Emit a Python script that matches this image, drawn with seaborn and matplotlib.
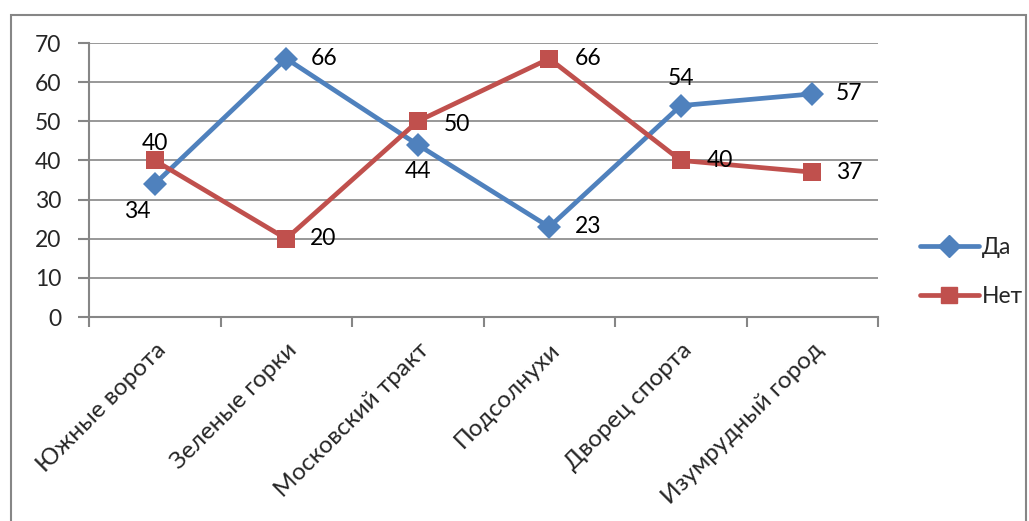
import pandas as pd
import seaborn as sns
import matplotlib.pyplot as plt
from matplotlib.patches import Rectangle

# Data
districts = ["Южные ворота", "Зеленые горки", "Московский тракт",
             "Подсолнухи", "Дворец спорта", "Изумрудный город"]
yes_values = [34, 66, 44, 23, 54, 57]
no_values = [40, 20, 50, 66, 40, 37]

# where each value label sits relative to its marker (pixels): (dx, dy, ha)
yes_offsets = [(-17, -28, "center"), (24, 0, "left"), (0, -27, "center"),
               (26, 0, "left"), (0, 27, "center"), (24, 0, "left")]
no_offsets = [(0, 17, "center"), (24, 0, "left"), (26, -3, "left"),
              (26, 0, "left"), (26, 0, "left"), (24, 0, "left")]

df = pd.DataFrame({
    "idx": list(range(len(districts))) * 2,
    "value": yes_values + no_values,
    "series": ["Да"] * len(districts) + ["Нет"] * len(districts),
})

sns.set_style("white")
plt.rcParams["font.family"] = ["Lato", "DejaVu Sans"]

blue = "#4F81BD"
red = "#C0504D"
grid = "#868686"
fs = 16.5

fig = plt.figure(figsize=(10.29, 5.21), dpi=100)
ax = fig.add_axes([89 / 1029, 1 - 317 / 521, (878 - 89) / 1029, (317 - 43) / 521])

sns.lineplot(data=df, x="idx", y="value", hue="series", style="series",
             markers={"Да": "D", "Нет": "s"}, dashes=False,
             palette={"Да": blue, "Нет": red}, linewidth=3.4,
             markeredgewidth=0, ax=ax, legend=False)

for line in ax.get_lines():
    if line.get_marker() == "s":
        line.set_markersize(13)
    if line.get_marker() == "D":
        line.set_markersize(12)

ax.set_xlim(-0.5, len(districts) - 0.5)
ax.set_ylim(0, 70)
ax.set_yticks(range(0, 71, 10))
ax.set_xticks([i + 0.5 for i in range(-1, len(districts))], minor=False)
ax.set_xticklabels([])
ax.set_xticks(range(len(districts)), minor=True)
ax.set_xticklabels(districts, minor=True, rotation=45, ha="right",
                   rotation_mode="anchor", fontsize=fs + 1)
ax.tick_params(axis="x", which="minor", length=0, pad=16)
ax.tick_params(axis="x", which="major", length=7, width=1.5, color=grid, direction="out")
ax.tick_params(axis="y", length=8, width=1.5, color=grid, direction="out",
               labelsize=fs, pad=12)
ax.tick_params(left=True, bottom=True)
ax.set_xlabel("")
ax.set_ylabel("")
ax.grid(axis="y", color=grid, linewidth=1.2)
ax.set_axisbelow(True)
for side in ["top", "right"]:
    ax.spines[side].set_visible(False)
for side in ["left", "bottom"]:
    ax.spines[side].set_color(grid)
    ax.spines[side].set_linewidth(1.5)

# value labels
px = 0.72
for vals, offs in [(yes_values, yes_offsets), (no_values, no_offsets)]:
    for i, (v, (dx, dy, ha)) in enumerate(zip(vals, offs)):
        ax.annotate(str(v), (i, v), xytext=(dx * px, dy * px),
                    textcoords="offset points", ha=ha, va="center",
                    fontsize=fs, color="black")

# legend
handles = [
    plt.Line2D([], [], color=blue, lw=3.4, marker="D", markersize=11),
    plt.Line2D([], [], color=red, lw=3.4, marker="s", markersize=12),
]
fig.legend(handles, ["Да", "Нет"], loc="center left",
           bbox_to_anchor=(0.878, 1 - 272 / 521), frameon=False,
           fontsize=fs, labelspacing=1.2, handlelength=2.6, handletextpad=0.1,
           borderpad=0.2)

# outer chart border
fig.patches.append(Rectangle((11 / 1029, -0.02), (1026 - 11) / 1029, 1 - 15 / 521 + 0.02,
                             transform=fig.transFigure, fill=False,
                             edgecolor=grid, linewidth=1.5))

fig.savefig("out.png", dpi=100)
